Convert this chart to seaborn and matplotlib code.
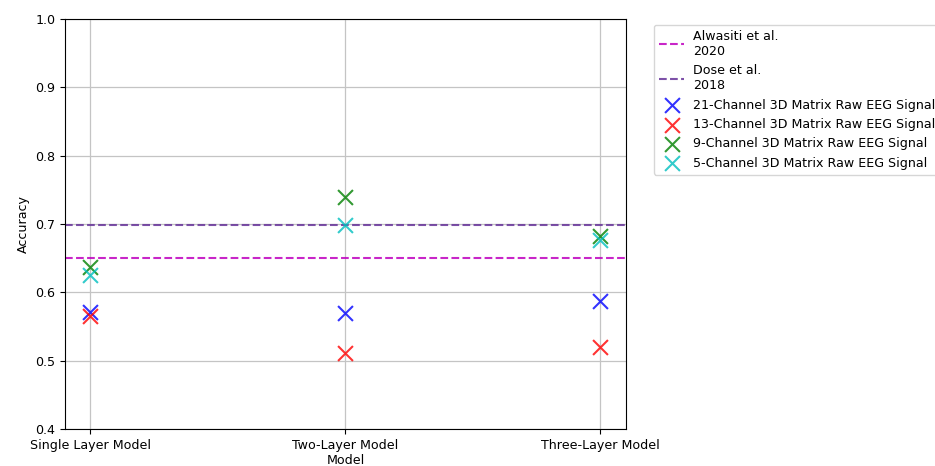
import matplotlib
matplotlib.use("Agg")
import matplotlib.pyplot as plt
import seaborn as sns
import pandas as pd

models = ["Single Layer Model", "Two-Layer Model", "Three-Layer Model"]
series_names = [
    "21-Channel 3D Matrix Raw EEG Signal",
    "13-Channel 3D Matrix Raw EEG Signal",
    "9-Channel 3D Matrix Raw EEG Signal",
    "5-Channel 3D Matrix Raw EEG Signal",
]
acc_21 = [0.571, 0.570, 0.587]
acc_13 = [0.565, 0.511, 0.520]
acc_9 = [0.637, 0.740, 0.682]
acc_5 = [0.625, 0.698, 0.676]
baseline_labels = ["Alwasiti et al.\n2020", "Dose et al.\n2018"]
baseline_values = [0.650, 0.699]

colors = ["b", "r", "g", "c"]
baseline_colors = ["m", "rebeccapurple"]

plt.rcParams["font.size"] = 9.1

fig = plt.figure(figsize=(9.35, 4.66), dpi=100)
ax = fig.add_axes([0.0695, 0.0794, 0.6, 0.8798])

for lbl, val, col in zip(baseline_labels, baseline_values, baseline_colors):
    ax.axhline(val, color=col, linestyle="--", alpha=0.85, linewidth=1.5, label=lbl, zorder=2)

for name, vals, col in zip(series_names, [acc_21, acc_13, acc_9, acc_5], colors):
    df = pd.DataFrame({"Model": models, "Accuracy": vals})
    sns.scatterplot(data=df, x="Model", y="Accuracy", ax=ax, color=col,
                    marker="x", s=115, linewidth=1.5, alpha=0.8, label=name, zorder=3)

ax.set_ylim(0.4, 1.0)
ax.set_xlim(-0.1, 2.1)
ax.set_yticks([0.4, 0.5, 0.6, 0.7, 0.8, 0.9, 1.0])
ax.grid(True, color="#c4c4c4", linewidth=0.9, zorder=0)
ax.set_axisbelow(True)
ax.set_xlabel("Model", labelpad=1.5)
ax.set_ylabel("Accuracy")
ax.legend(loc="upper left", bbox_to_anchor=(1.043, 0.995), frameon=True,
          handletextpad=0.7, borderaxespad=0.3)

fig.savefig("out.png", dpi=100)
